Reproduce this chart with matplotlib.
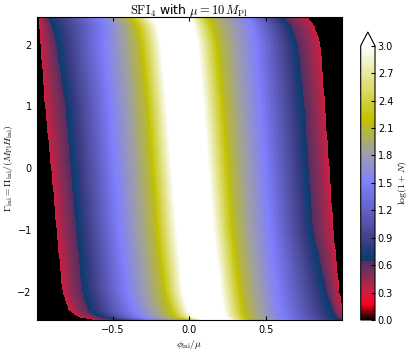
import numpy as np
import matplotlib
matplotlib.use("Agg")
import matplotlib.pyplot as plt
from matplotlib.colors import LinearSegmentedColormap

plt.rcParams["mathtext.fontset"] = "cm"
plt.rcParams["font.size"] = 7

gamma_rows = [2.449, 2.42, 2.3, 2.0, 1.0, 0.0, -1.0, -2.0, -2.3, -2.4, -2.449]

# log(1+N) values of the contours, going from the left edge to the centre
contour_levels = [0.30, 0.65, 1.5, 2.1, 3.0]

# phi_ini/mu of each contour on the left half (edge -> centre)
left_pos = [
    [-0.985, -0.94, -0.63, -0.44, -0.30],
    [-0.985, -0.925, -0.59, -0.40, -0.25],
    [-0.98, -0.90, -0.55, -0.36, -0.21],
    [-0.975, -0.87, -0.56, -0.33, -0.19],
    [-0.945, -0.81, -0.52, -0.29, -0.15],
    [-0.905, -0.775, -0.49, -0.26, -0.118],
    [-0.87, -0.74, -0.46, -0.23, -0.085],
    [-0.83, -0.70, -0.41, -0.18, -0.045],
    [-0.79, -0.66, -0.37, -0.14, -0.01],
    [-0.73, -0.60, -0.33, -0.11, 0.02],
    [-0.64, -0.50, -0.26, -0.04, 0.08],
]

# phi_ini/mu of each contour on the right half (centre -> edge)
right_pos = [
    [-0.03, 0.10, 0.35, 0.57, 0.72],
    [0.0, 0.13, 0.38, 0.61, 0.77],
    [0.02, 0.16, 0.41, 0.655, 0.81],
    [0.05, 0.19, 0.43, 0.70, 0.85],
    [0.085, 0.23, 0.46, 0.745, 0.88],
    [0.118, 0.26, 0.49, 0.77, 0.908],
    [0.15, 0.29, 0.52, 0.80, 0.935],
    [0.20, 0.34, 0.57, 0.89, 0.975],
    [0.22, 0.36, 0.59, 0.93, 0.995],
    [0.23, 0.37, 0.60, 0.95, 1.02],
    [0.26, 0.39, 0.63, 0.99, 1.05],
]

peak_value = 3.6
cbar_ticks = [0.0, 0.3, 0.6, 0.9, 1.2, 1.5, 1.8, 2.1, 2.4, 2.7, 3.0]

# colour map
cmap_stops = [
    (0.0, (0.0, 0.0, 0.0)),
    (0.17, (1.0, 0.0, 0.12)),
    (0.30, (0.8, 0.12, 0.25)),
    (0.50, (0.5, 0.18, 0.35)),
    (0.64, (0.33, 0.18, 0.38)),
    (0.645, (0.08, 0.22, 0.42)),
    (0.76, (0.1, 0.25, 0.48)),
    (0.80, (0.2, 0.22, 0.48)),
    (1.0, (0.3, 0.3, 0.62)),
    (1.5, (0.5, 0.5, 1.0)),
    (1.85, (0.63, 0.63, 0.63)),
    (2.2, (0.76, 0.76, 0.0)),
    (3.0, (1.0, 1.0, 1.0)),
]
cmap = LinearSegmentedColormap.from_list(
    "sfi", [(v / 3.0, c) for v, c in cmap_stops])
cmap.set_over("white")


def build_field(x, g):
    gr = np.array(gamma_rows)[::-1]
    lp = np.array(left_pos)[::-1]
    rp = np.array(right_pos)[::-1]
    field = np.full((len(g), len(x)), np.nan)
    for i, gv in enumerate(g):
        left = [np.interp(gv, gr, lp[:, k]) for k in range(lp.shape[1])]
        right = [np.interp(gv, gr, rp[:, k]) for k in range(rp.shape[1])]
        centre = 0.5 * (left[-1] + right[0])
        xs = left + [centre] + right
        vs = contour_levels + [peak_value] + contour_levels[::-1]
        row = np.interp(x, xs, vs)
        row[(x < left[0]) | (x > right[-1])] = np.nan
        field[i] = row
    return field


x = np.linspace(-0.995, 0.995, 500)
g = np.linspace(-2.449, 2.449, 500)
z = build_field(x, g)

fig = plt.figure(figsize=(4.13, 3.52), dpi=100)
ax = fig.add_axes([36.7 / 413, 32 / 352, 305 / 413, 303.3 / 352])
ax.set_facecolor("black")
im = ax.imshow(z, extent=[x[0], x[-1], g[0], g[-1]], origin="lower",
               aspect="auto", cmap=cmap, vmin=0, vmax=3,
               interpolation="nearest")
ax.set_xlim(-0.995, 0.995)
ax.set_ylim(-2.449, 2.449)
ax.set_xticks([-0.5, 0.0, 0.5])
ax.set_yticks([-2, -1, 0, 1, 2])
ax.tick_params(direction="in", top=True, right=True, length=3)
ax.set_xlabel(r"$\phi_\mathrm{ini}/\mu$", fontsize=7, labelpad=2)
ax.set_ylabel(r"$\Gamma_\mathrm{ini}=\Pi_\mathrm{ini}/(M_\mathrm{Pl}H_\mathrm{ini})$",
              fontsize=7, labelpad=2)
ax.set_title(r"$\mathrm{SFI}_4$ with $\mu=10\,M_\mathrm{Pl}$", fontsize=9, pad=2)

cax = fig.add_axes([360.7 / 413, 32 / 352, 14.3 / 413, 288 / 352])
cb = fig.colorbar(im, cax=cax, extend="max", ticks=cbar_ticks)
cb.ax.set_yticklabels(["%.1f" % t for t in cbar_ticks])
cb.ax.tick_params(direction="in", length=3, pad=2)
cb.set_label(r"$\log(1+N)$", fontsize=7, labelpad=2)

fig.savefig("out.png", dpi=100)
